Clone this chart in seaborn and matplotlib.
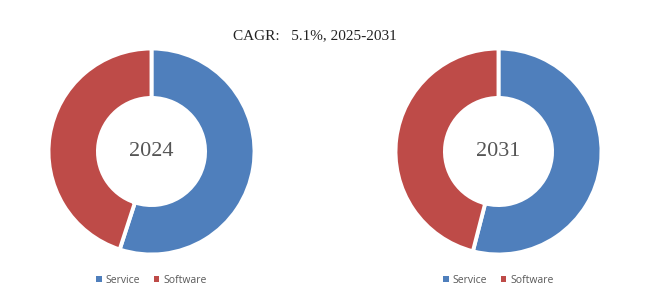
import matplotlib
matplotlib.use("Agg")
import matplotlib.pyplot as plt
import seaborn as sns
from matplotlib.patches import Patch

sns.set_theme(style="white")
plt.rcParams['font.family'] = ['DejaVu Sans']

segments = ["Service", "Software"]
share_2024 = [55.0, 45.0]
share_2031 = [54.0, 46.0]
years = ["2024", "2031"]
title_text = "CAGR:   5.1%, 2025-2031"

colors = ["#4F7FBC", "#BE4B48"]

fig = plt.figure(figsize=(6.5, 3.0), dpi=100)
fig.patch.set_facecolor("white")

axw, axh = 206 / 650, 206 / 300
ax_positions = [
    [(151.5 - 103) / 650, (300 - 151.5 - 103) / 300, axw, axh],
    [(498.5 - 103) / 650, (300 - 151.5 - 103) / 300, axw, axh],
]

for pos, vals, yr in zip(ax_positions, [share_2024, share_2031], years):
    ax = fig.add_axes(pos)
    ax.pie(vals, colors=colors, startangle=90, counterclock=False,
           radius=1.0,
           wedgeprops=dict(width=0.48, edgecolor="white", linewidth=2.8))
    ax.set_xlim(-1.0, 1.0)
    ax.set_ylim(-1.0, 1.0)
    ax.set_aspect("equal")
    ax.axis("off")
    ax.text(0, 0, yr, ha="center", va="center", fontsize=16,
            family="Liberation Serif", color="#555555")
    handles = [Patch(facecolor=c, edgecolor="none", label=s)
               for c, s in zip(colors, segments)]
    ax.legend(handles=handles, loc="center", bbox_to_anchor=(0.5, -0.125),
              ncol=2, frameon=False, prop=dict(family="Open Sans", size=7.5),
              handlelength=0.5, handleheight=0.5, handletextpad=0.4,
              columnspacing=1.3, labelcolor="#595959")

fig.text(315 / 650, 1 - 36 / 300, title_text, ha="center", va="center",
         fontsize=11, family="Liberation Serif", color="#222222")

fig.savefig("out.png", dpi=100, facecolor="white")
